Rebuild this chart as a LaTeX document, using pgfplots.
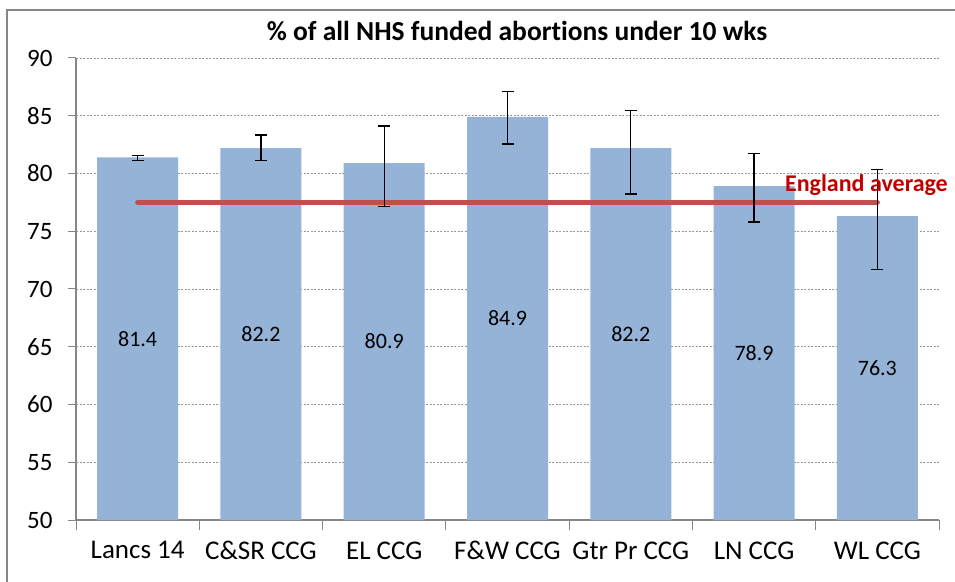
\documentclass[border=0pt]{standalone}
\usepackage{fontspec}
\setmainfont{Carlito}[Ligatures=NoCommon]
\usepackage{pgfplots}
\usepackage{pgfplotstable}
\pgfplotsset{compat=1.18}
\definecolor{BarBlue}{HTML}{95B3D7}
\definecolor{AvgRed}{HTML}{C0504D}
\definecolor{LabelRed}{HTML}{C00000}
\definecolor{AxisGray}{HTML}{868686}

% value, upper and lower error
\pgfplotstableread{
x val ep em
0 81.4 0.14 0.29
1 82.2 1.13 1.09
2 80.9 3.21 3.77
3 84.9 2.18 2.35
4 82.2 3.24 3.98
5 78.9 2.85 3.10
6 76.3 4.03 4.60
}\ccgdata

\begin{document}
\begin{tikzpicture}[x=1pt,y=1pt]
\useasboundingbox (0,0) rectangle (955,581);
\draw[AxisGray,line width=2.5pt] (7,-5) -- (7,571) -- (960,571);
\begin{axis}[
  at={(76pt,61pt)},anchor=south west,scale only axis,
  width=863pt,height=462pt,clip=false,
  xmin=-0.5,xmax=6.5,ymin=50,ymax=90,
  axis x line*=bottom,axis y line*=left,
  axis line style={AxisGray,line width=1.2pt},
  ytick={50,55,...,90},
  ymajorgrids,grid style={AxisGray!85,dash pattern=on 2pt off 1.5pt,line width=0.8pt},
  y tick style={AxisGray,line width=1pt},
  ytick align=outside,major tick length=8pt,
  xtick={0,...,6},
  xticklabels={Lancs 14,C\&SR CCG,EL CCG,F\&W CCG,Gtr Pr CCG,LN CCG,WL CCG},
  major x tick style={draw=none},
  extra x ticks={-0.5,0.5,...,6.5},extra x tick labels={},
  extra x tick style={major tick length=10pt,xtick align=outside,
    major x tick style={draw=AxisGray,line width=1pt}},
  xticklabel style={font=\fontsize{27}{32}\selectfont,yshift=-18pt},
  yticklabel style={font=\fontsize{25}{30}\selectfont,xshift=-12pt},
  /pgf/number format/assume math mode=true,
]
\addplot[ybar,bar width=81pt,fill=BarBlue,draw=none] table[x=x,y=val]{\ccgdata};
\addplot[AvgRed,line width=5pt,line cap=round] coordinates {(0,77.5) (6,77.5)};
\addplot[draw=none,mark=none,
  error bars/.cd,y dir=both,y explicit,
  error bar style={draw=black,line width=1.2pt},
  error mark options={rotate=90,mark size=6pt,draw=black,line width=1.2pt}]
  table[x=x,y=val,y error plus=ep,y error minus=em]{\ccgdata};
\addplot[draw=none,mark=none,nodes near coords,point meta=explicit symbolic,
  nodes near coords style={anchor=center,text=black,font=\fontsize{22}{26}\selectfont}]
  table[x=x,y expr={(\thisrow{val}+50)/2},meta=val]{\ccgdata};
\node[anchor=base west,text=LabelRed,font=\bfseries\fontsize{24}{28}\selectfont,inner sep=0]
  at (axis cs:5.25,78.42) {England average};
\end{axis}
\node[anchor=base,font=\bfseries\fontsize{27.5}{32}\selectfont] at (517,540.3)
  {\% of all NHS funded abortions under 10 wks};
\end{tikzpicture}
\end{document}
